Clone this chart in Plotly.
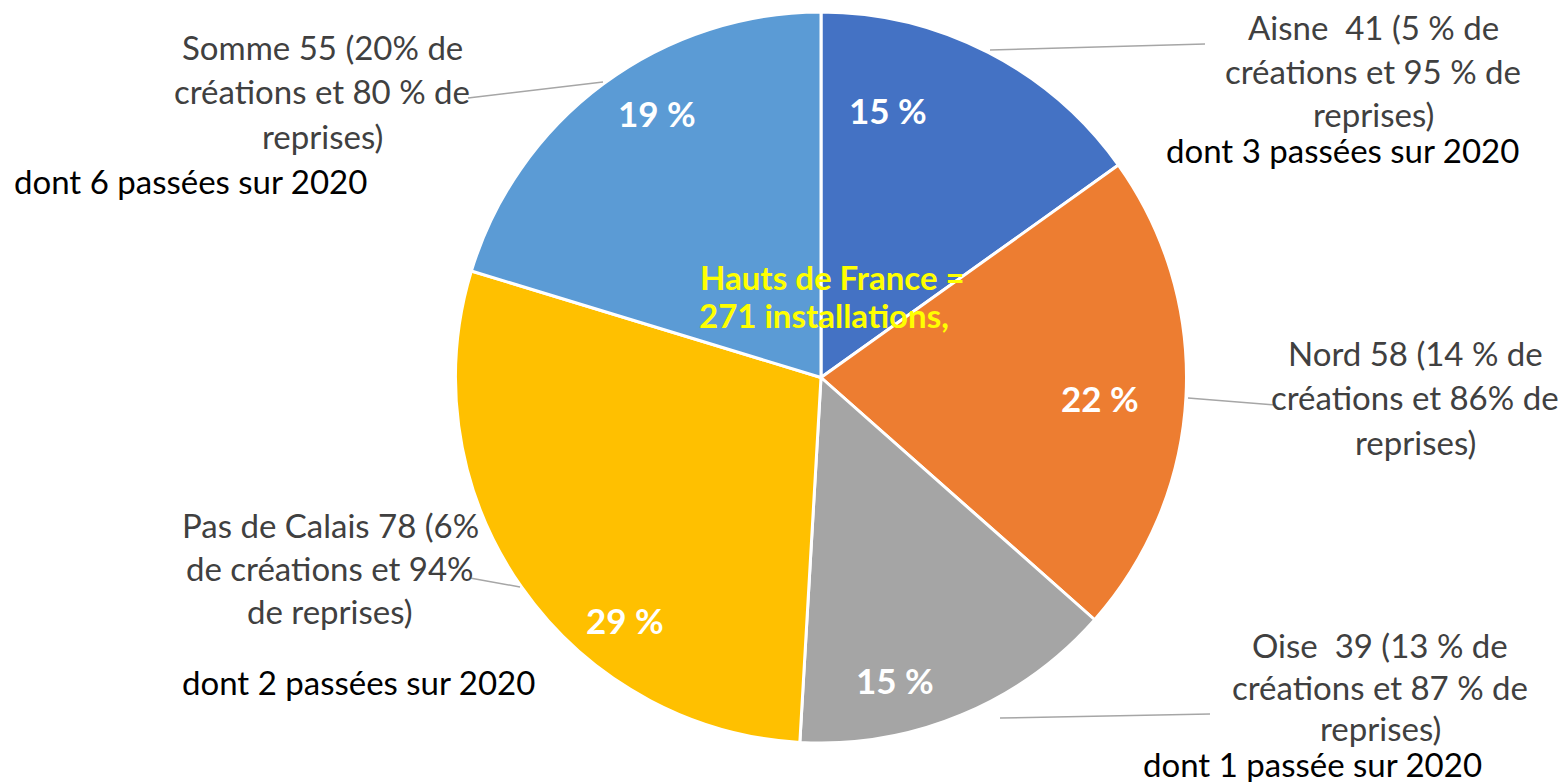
import plotly.graph_objects as go

# ---- data ----
departements = ["Aisne", "Nord", "Oise", "Pas de Calais", "Somme"]
installations = [41, 58, 39, 78, 55]
pct_labels = ["15 %", "22 %", "15 %", "29 %", "19 %"]
colors = ["#4472C4", "#ED7D31", "#A5A5A5", "#FFC000", "#5B9BD5"]

label_lines = {
    "Aisne": ["Aisne  41 (5 % de", "créations et 95 % de", "reprises)"],
    "Nord": ["Nord 58 (14 % de", "créations et 86% de", "reprises)"],
    "Oise": ["Oise  39 (13 % de", "créations et 87 % de", "reprises)"],
    "Pas de Calais": ["Pas de Calais 78 (6%", "de créations et 94%", "de reprises)"],
    "Somme": ["Somme 55 (20% de", "créations et 80 % de", "reprises)"],
}
passees = {
    "Aisne": "dont 3 passées sur 2020",
    "Oise": "dont 1 passée sur 2020",
    "Pas de Calais": "dont 2 passées sur 2020",
    "Somme": "dont 6 passées sur 2020",
}
center_title = ["Hauts de France =", "271 installations,"]

# ---- layout helpers (page has an 8px body margin) ----
W, H = 1568, 782
OFF = 8
def fx(x):
    return (x - OFF) / W
def fy(y):
    return 1 - (y - OFF) / H

FONT = "Lato"

fig = go.Figure()
fig.add_trace(go.Pie(
    labels=departements,
    values=installations,
    sort=False,
    direction="clockwise",
    rotation=0,
    marker=dict(colors=colors, line=dict(color="white", width=3)),
    textinfo="none",
    hoverinfo="label+value+percent",
    showlegend=False,
    domain=dict(x=[fx(455), fx(1187)], y=[fy(743), fy(12)]),
))

annotations = []

def add_text(text, x, y, size=33, color="#404040", bold=False, xanchor="center"):
    t = f"<b>{text}</b>" if bold else text
    annotations.append(dict(
        text=t, x=fx(x), y=fy(y), xref="paper", yref="paper",
        xanchor=xanchor, yanchor="middle", showarrow=False,
        font=dict(family=FONT, size=size, color=color),
    ))

# label blocks: (centre x, first line y, line spacing)
blocks = {
    "Aisne": (1373, 27, 43.5),
    "Nord": (1415, 353, 44.5),
    "Oise": (1380, 645, 41.5),
    "Pas de Calais": (330, 525, 43),
    "Somme": (322, 47, 44.5),
}
for dep, (cx, y0, dy) in blocks.items():
    for i, line in enumerate(label_lines[dep]):
        add_text(line, cx, y0 + i * dy)

add_text(passees["Aisne"], 1342, 150, color="#000000")
add_text(passees["Oise"], 1312, 764, color="#000000")
add_text(passees["Pas de Calais"], 358, 682, color="#000000")
add_text(passees["Somme"], 12, 181, color="#000000", xanchor="left")

# percentage labels inside slices
pct_pos = [(888, 110), (1100, 398), (895, 680), (625, 620), (657, 113)]
for lab, (x, y) in zip(pct_labels, pct_pos):
    add_text(lab, x, y, size=35, color="white", bold=True)

# centre title
add_text(center_title[0], 832, 277, size=33, color="#FFFF00", bold=True)
add_text(center_title[1], 824, 315, size=33, color="#FFFF00", bold=True)

# leader lines
leaders = [
    ((990, 50), (1205, 44)),
    ((603, 82), (468, 98)),
    ((1188, 398), (1275, 405)),
    ((1000, 718), (1210, 714)),
    ((520, 587), (470, 578)),
]
shapes = []
for (x0, y0), (x1, y1) in leaders:
    shapes.append(dict(type="line", xref="paper", yref="paper",
                       x0=fx(x0), y0=fy(y0), x1=fx(x1), y1=fy(y1),
                       line=dict(color="#A6A6A6", width=1.5)))

fig.update_layout(
    width=W, height=H,
    margin=dict(l=0, r=0, t=0, b=0),
    paper_bgcolor="white",
    plot_bgcolor="white",
    annotations=annotations,
    shapes=shapes,
    font=dict(family=FONT),
)

fig.write_html("out.html")
